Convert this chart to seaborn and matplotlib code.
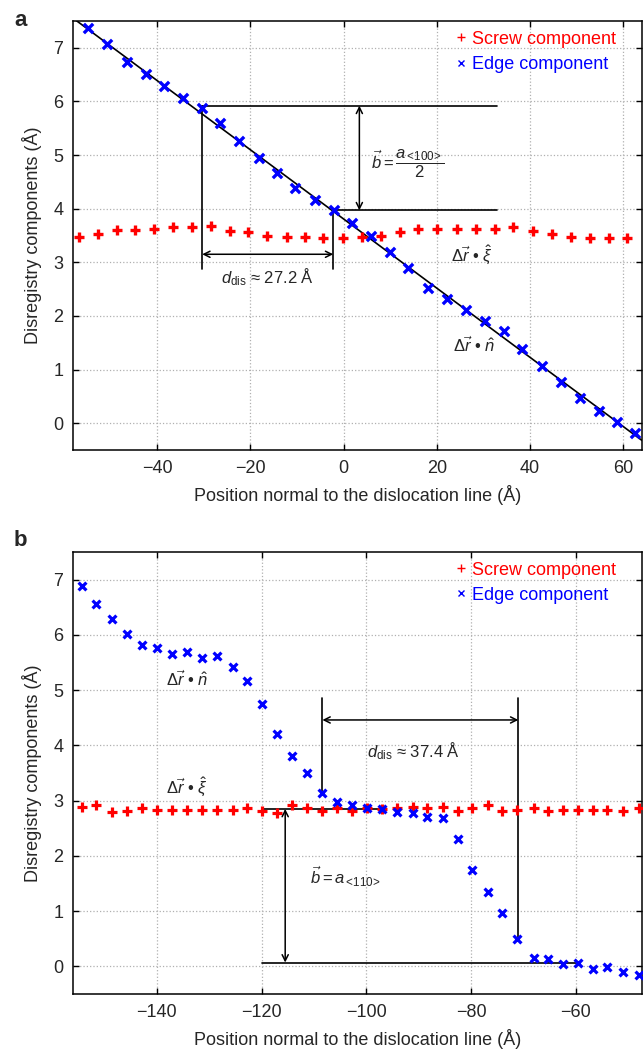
import numpy as np
import pandas as pd
import matplotlib.pyplot as plt
import seaborn as sns
from matplotlib.lines import Line2D

# (a) <100> dislocation, disregistry (Angstrom)
a_edge_x = [-54.8, -50.7, -46.4, -42.4, -38.5, -34.4, -30.4, -26.5, -22.5, -18.2,
            -14.3, -10.3, -6.2, -2.1, 1.9, 6.0, 10.0, 13.9, 18.2, 22.2,
            26.2, 30.3, 34.4, 38.2, 42.6, 46.6, 50.6, 54.8, 58.7, 62.6]
a_edge_y = [7.37, 7.07, 6.74, 6.52, 6.28, 6.07, 5.87, 5.59, 5.27, 4.95,
            4.67, 4.39, 4.17, 3.97, 3.74, 3.50, 3.19, 2.89, 2.53, 2.31,
            2.11, 1.90, 1.72, 1.39, 1.07, 0.76, 0.47, 0.23, 0.02, -0.19]
a_screw_x = [-56.7, -52.6, -48.6, -44.7, -40.6, -36.6, -32.5, -28.4, -24.4, -20.5,
             -16.3, -12.2, -8.2, -4.3, -0.2, 3.9, 8.1, 12.2, 16.0, 20.1,
             24.4, 28.4, 32.5, 36.4, 40.6, 44.7, 48.8, 52.8, 56.9, 60.7]
a_screw_y = [3.48, 3.52, 3.61, 3.61, 3.63, 3.65, 3.65, 3.67, 3.58, 3.56,
             3.50, 3.48, 3.47, 3.46, 3.46, 3.48, 3.50, 3.56, 3.63, 3.63,
             3.63, 3.63, 3.63, 3.65, 3.58, 3.52, 3.48, 3.46, 3.46, 3.46]

# (b) <110> dislocation
b_x = [-154.3, -151.7, -148.6, -145.7, -142.9, -140.0, -137.1, -134.3, -131.4, -128.5,
       -125.5, -122.8, -119.9, -117.1, -114.2, -111.3, -108.4, -105.6, -102.7, -99.9,
       -97.0, -94.1, -91.1, -88.4, -85.3, -82.5, -79.8, -76.7, -74.1, -71.2,
       -68.1, -65.4, -62.4, -59.7, -56.8, -54.0, -51.1, -48.0]
b_edge_y = [6.88, 6.55, 6.28, 6.01, 5.81, 5.76, 5.65, 5.69, 5.58, 5.61,
            5.42, 5.16, 4.75, 4.21, 3.81, 3.50, 3.14, 2.98, 2.92, 2.87,
            2.85, 2.80, 2.78, 2.71, 2.69, 2.31, 1.75, 1.34, 0.96, 0.49,
            0.16, 0.14, 0.04, 0.07, -0.05, -0.02, -0.11, -0.16]
b_screw_y = [2.89, 2.92, 2.80, 2.82, 2.87, 2.83, 2.83, 2.83, 2.83, 2.83,
             2.83, 2.87, 2.82, 2.78, 2.92, 2.87, 2.82, 2.87, 2.82, 2.87,
             2.85, 2.87, 2.89, 2.87, 2.89, 2.82, 2.87, 2.92, 2.82, 2.83,
             2.87, 2.82, 2.83, 2.83, 2.83, 2.83, 2.82, 2.87]

# annotation anchors (core width / Burgers vector marks)
a_core = (-30.3, -2.2)
a_burgers = (5.92, 3.97)
b_core = (-108.4, -71.0)
b_burgers = (0.07, 2.85)

SCREW = "#ff0000"
EDGE = "#0000ff"

sns.set_style("ticks", {"xtick.direction": "in", "ytick.direction": "in"})
plt.rcParams["font.family"] = ["Liberation Sans", "DejaVu Sans"]
plt.rcParams["mathtext.fontset"] = "custom"
plt.rcParams["mathtext.rm"] = "Liberation Sans"
plt.rcParams["mathtext.it"] = "Liberation Sans:italic"
plt.rcParams["mathtext.bf"] = "Liberation Sans:bold"

fig = plt.figure(figsize=(6.43, 10.5), dpi=100)
ax_a = fig.add_axes([73 / 643, 1 - 450 / 1050, 569 / 643, 429 / 1050])
ax_b = fig.add_axes([73 / 643, 1 - 994 / 1050, 569 / 643, 442 / 1050])


def style_axes(ax, xlim, xticks):
    ax.set_xlim(*xlim)
    ax.set_ylim(-0.5, 7.5)
    ax.set_xticks(xticks)
    ax.set_yticks(range(0, 8))
    ax.grid(True, linestyle=":", color="#b0b0b0", linewidth=0.9)
    ax.tick_params(labelsize=13, length=4, width=1, pad=7,
                   top=True, right=True, color="black")
    for s in ax.spines.values():
        s.set_visible(True)
        s.set_linewidth(1.1)
        s.set_color("black")
    ax.set_xlabel("Position normal to the dislocation line (Å)", fontsize=13, labelpad=6)
    ax.set_ylabel("Disregistry components (Å)", fontsize=13, labelpad=8)
    handles = [Line2D([], [], marker="+", ls="", color=SCREW, ms=6, mew=1),
               Line2D([], [], marker="x", ls="", color=EDGE, ms=5, mew=1)]
    ax.legend(handles, ["Screw component", "Edge component"], loc="upper left",
              bbox_to_anchor=(0.645, 1.015), frameon=False, fontsize=13,
              handlelength=0.5, handletextpad=0.35, labelspacing=0.45,
              labelcolor="markeredgecolor")


def dbl_arrow(ax, p0, p1):
    ax.annotate("", xy=p1, xytext=p0,
                arrowprops=dict(arrowstyle="<->", color="black", lw=1.1,
                                shrinkA=0, shrinkB=0, mutation_scale=11))


def proj(vec):
    # Δr•vec label: mathtext for the vectors, plain bullet between them
    return r"$\Delta\vec{r}$" + " • " + r"$\hat{" + vec + "}$"


# ---- panel a
style_axes(ax_a, (-58, 64), [-40, -20, 0, 20, 40, 60])
sns.regplot(x=a_edge_x, y=a_edge_y, scatter=False, ci=None, truncate=False,
            color="black", line_kws={"lw": 1.2}, ax=ax_a)
sns.scatterplot(x=a_screw_x, y=a_screw_y, marker="+", color=SCREW, s=55,
                linewidth=2.4, ax=ax_a, zorder=3)
sns.scatterplot(x=a_edge_x, y=a_edge_y, marker="x", color=EDGE, s=45,
                linewidth=2.4, ax=ax_a, zorder=3)

lk = dict(color="black", lw=1.2)
ax_a.plot([a_core[0], a_core[0]], [a_burgers[0], 2.87], **lk)
ax_a.plot([a_core[1], a_core[1]], [a_burgers[1], 2.87], **lk)
ax_a.plot([a_core[0], 33], [a_burgers[0]] * 2, **lk)
ax_a.plot([a_core[1], 33], [a_burgers[1]] * 2, **lk)
dbl_arrow(ax_a, (3.4, a_burgers[0]), (3.4, a_burgers[1]))
dbl_arrow(ax_a, (a_core[0], 3.15), (a_core[1], 3.15))
ax_a.text(-16.3, 2.72, r"$d_{\mathrm{dis}}$ ≈ 27.2 Å", fontsize=12, ha="center", va="center")
ax_a.text(5.8, 4.85, r"$\vec{b} = \dfrac{a_{<\!100\!>}}{2}$", fontsize=12,
          ha="left", va="center")
ax_a.text(27.5, 3.15, proj(r"\xi"), fontsize=12, ha="center", va="center")
ax_a.text(28.0, 1.45, proj("n"), fontsize=12, ha="center", va="center")

# ---- panel b
style_axes(ax_b, (-156, -47.4), [-140, -120, -100, -80, -60])
sns.scatterplot(x=b_x, y=b_screw_y, marker="+", color=SCREW, s=45,
                linewidth=2.3, ax=ax_b, zorder=3)
sns.scatterplot(x=b_x, y=b_edge_y, marker="x", color=EDGE, s=32,
                linewidth=2.3, ax=ax_b, zorder=3)

ax_b.plot([b_core[0], b_core[0]], [4.86, 3.14], **lk)
ax_b.plot([b_core[1], b_core[1]], [4.86, 0.49], **lk)
ax_b.plot([-120, -97], [b_burgers[1]] * 2, **lk)
ax_b.plot([-120, -59.5], [b_burgers[0]] * 2, **lk)
dbl_arrow(ax_b, (b_core[0], 4.46), (b_core[1], 4.46))
dbl_arrow(ax_b, (-115.5, b_burgers[0]), (-115.5, b_burgers[1]))
ax_b.text(-91, 3.9, r"$d_{\mathrm{dis}}$ ≈ 37.4 Å", fontsize=12, ha="center", va="center")
ax_b.text(-110.8, 1.62, r"$\vec{b} = a_{<\!110\!>}$", fontsize=12, ha="left", va="center")
ax_b.text(-134.3, 5.2, proj("n"), fontsize=12, ha="center", va="center")
ax_b.text(-134.3, 3.25, proj(r"\xi"), fontsize=12, ha="center", va="center")

fig.text(21 / 643, 1 - 21 / 1050, "a", fontsize=16, fontweight="bold", ha="center", va="center")
fig.text(20 / 643, 1 - 540 / 1050, "b", fontsize=16, fontweight="bold", ha="center", va="center")

fig.savefig("out.png", dpi=100)
